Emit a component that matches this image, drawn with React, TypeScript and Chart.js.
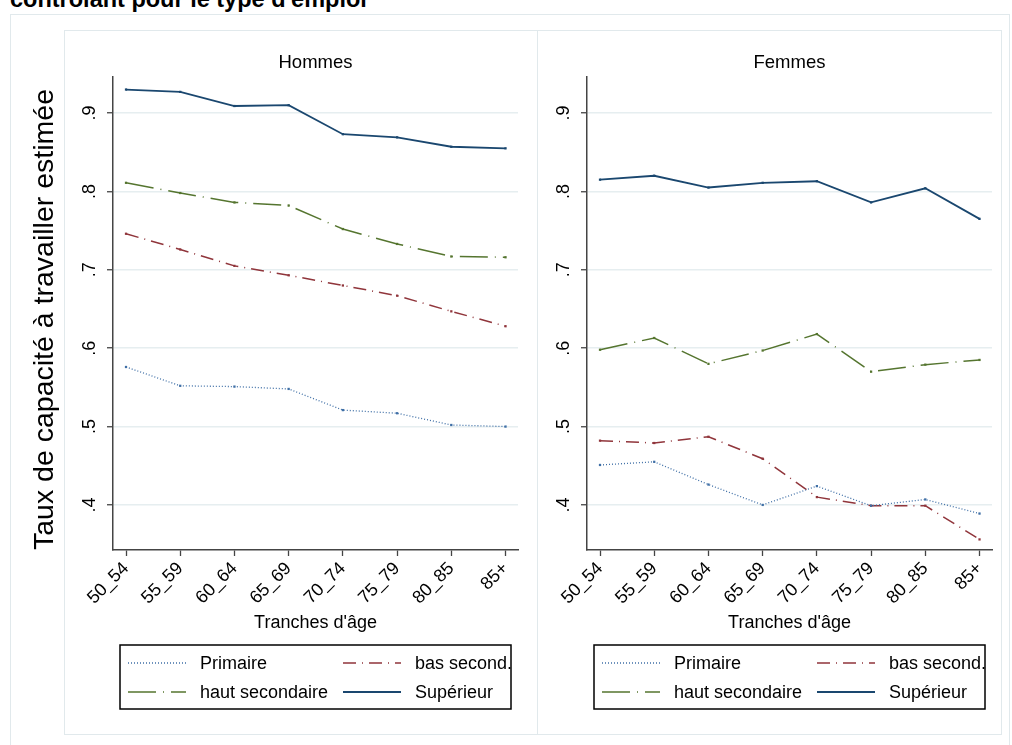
import React, { useEffect, useRef } from "react";
import { Chart, registerables } from "chart.js";

Chart.register(...registerables);

const FONT = '"Liberation Sans", Arial, Helvetica, sans-serif';

const AGE_GROUPS = ["50_54", "55_59", "60_64", "65_69", "70_74", "75_79", "80_85", "85+"];
const Y_TICKS = [0.4, 0.5, 0.6, 0.7, 0.8, 0.9];
const SERIES_NAMES = ["Primaire", "bas second.", "haut secondaire", "Supérieur"];
const SERIES_COLORS = ["#3f6fa6", "#90353b", "#55752f", "#1a476f"];
const SERIES_DASHES = [[1, 2], [13, 6, 1, 6], [28, 7, 1, 7], []];
const SERIES_WIDTHS = [1.3, 1.5, 1.5, 1.8];

const HOMMES_PRIMAIRE = [0.576, 0.552, 0.551, 0.548, 0.521, 0.517, 0.502, 0.5];
const HOMMES_BAS = [0.746, 0.726, 0.705, 0.693, 0.68, 0.667, 0.647, 0.628];
const HOMMES_HAUT = [0.811, 0.798, 0.786, 0.782, 0.752, 0.733, 0.717, 0.716];
const HOMMES_SUP = [0.93, 0.927, 0.909, 0.91, 0.873, 0.869, 0.857, 0.855];

const FEMMES_PRIMAIRE = [0.451, 0.455, 0.426, 0.4, 0.424, 0.399, 0.407, 0.389];
const FEMMES_BAS = [0.482, 0.479, 0.487, 0.459, 0.41, 0.399, 0.399, 0.356];
const FEMMES_HAUT = [0.598, 0.613, 0.58, 0.597, 0.618, 0.57, 0.579, 0.585];
const FEMMES_SUP = [0.815, 0.82, 0.805, 0.811, 0.813, 0.786, 0.804, 0.765];

const Y_MIN = 0.3425;
const Y_MAX = 0.946;
const X_MIN = -0.24;
const X_MAX = 7.23;

const legendPlugin = {
  id: "panelLegend",
  afterDraw(chart: any, _args: any, opts: any) {
    const { ctx, chartArea } = chart;
    const x0 = chartArea.left + 7;
    const x1 = chartArea.right - 7;
    const y0 = opts.top;
    const y1 = opts.top + 64;
    ctx.save();
    ctx.setLineDash([]);
    ctx.strokeStyle = "#000";
    ctx.lineWidth = 1.5;
    ctx.strokeRect(x0, y0, x1 - x0, y1 - y0);
    SERIES_NAMES.forEach((name, i) => {
      const col = i % 2;
      const row = Math.floor(i / 2);
      const sx = x0 + (col ? 223 : 8);
      const sy = y0 + (row ? 47 : 18);
      ctx.beginPath();
      ctx.setLineDash(SERIES_DASHES[i]);
      ctx.strokeStyle = SERIES_COLORS[i];
      ctx.lineWidth = SERIES_WIDTHS[i];
      ctx.moveTo(sx, sy);
      ctx.lineTo(sx + 58, sy);
      ctx.stroke();
      ctx.setLineDash([]);
      ctx.fillStyle = "#000";
      ctx.font = `18px ${FONT}`;
      ctx.textBaseline = "middle";
      ctx.textAlign = "left";
      ctx.fillText(name, sx + 72, sy + 1);
    });
    ctx.restore();
  },
};

type PanelProps = {
  left: number;
  width: number;
  yWidth: number;
  padRight: number;
  title: string;
  values: number[][];
  yTitle?: string;
};

function Panel({ left, width, yWidth, padRight, title, values, yTitle }: PanelProps) {
  const ref = useRef<HTMLCanvasElement | null>(null);
  useEffect(() => {
    if (!ref.current) return;
    const chart = new Chart(ref.current, {
      type: "line",
      data: {
        datasets: values.map((vals, i) => ({
          label: SERIES_NAMES[i],
          data: vals.map((v, j) => ({ x: j, y: v })),
          borderColor: SERIES_COLORS[i],
          backgroundColor: SERIES_COLORS[i],
          borderWidth: SERIES_WIDTHS[i],
          borderDash: SERIES_DASHES[i],
          pointStyle: "rect",
          pointRadius: 1.6,
          pointBorderWidth: 0,
          pointBackgroundColor: SERIES_COLORS[i],
          tension: 0,
          fill: false,
        })),
      },
      options: {
        animation: false,
        responsive: false,
        layout: { padding: { left: 0, right: padRight, top: 0, bottom: 98 } },
        plugins: {
          legend: { display: false },
          tooltip: { enabled: false },
          title: { display: false },
          panelLegend: { top: 615 },
        } as any,
        scales: {
          x: {
            type: "linear",
            position: "bottom",
            min: X_MIN,
            max: X_MAX,
            afterBuildTicks: (s: any) => {
              s.ticks = AGE_GROUPS.map((_, i) => ({ value: i }));
            },
            afterFit: (s: any) => {
              s.height = 85;
            },
            grid: {
              drawOnChartArea: false,
              drawTicks: true,
              tickLength: 6,
              tickColor: "#444",
              tickWidth: 1.3,
            },
            border: { display: true, color: "#444", width: 1.5 },
            ticks: {
              autoSkip: false,
              minRotation: 45,
              maxRotation: 45,
              padding: 2,
              color: "#000",
              font: { family: FONT, size: 18 },
              callback: (v: any) => AGE_GROUPS[v as number] ?? "",
            },
            title: {
              display: true,
              text: "Tranches d'âge",
              color: "#000",
              font: { family: FONT, size: 18 },
              padding: { top: 0, bottom: 1 },
            },
          },
          x2: {
            type: "linear",
            position: "top",
            min: 0,
            max: 1,
            afterFit: (s: any) => {
              s.height = 47;
            },
            grid: { display: false, drawTicks: false },
            border: { display: false },
            ticks: { display: false },
            title: {
              display: true,
              text: title,
              color: "#000",
              font: { family: FONT, size: 18.5 },
              padding: { top: 22, bottom: 0 },
            },
          },
          y: {
            type: "linear",
            position: "left",
            min: Y_MIN,
            max: Y_MAX,
            afterBuildTicks: (s: any) => {
              s.ticks = Y_TICKS.map((v) => ({ value: v }));
            },
            afterFit: (s: any) => {
              s.width = yWidth;
            },
            grid: {
              color: "#e6eef0",
              lineWidth: 1.5,
              drawTicks: true,
              tickLength: 6,
              tickColor: "#444",
              tickWidth: 1.3,
            },
            border: { display: true, color: "#444", width: 1.5 },
            ticks: {
              autoSkip: false,
              minRotation: 90,
              maxRotation: 90,
              crossAlign: "center",
              padding: 9,
              color: "#000",
              font: { family: FONT, size: 18 },
              callback: (v: any) => (v as number).toFixed(1).replace(/^0/, ""),
            },
            title: {
              display: !!yTitle,
              text: yTitle || "",
              align: "start",
              color: "#000",
              font: { family: FONT, size: 28.5 },
              padding: { top: 18, bottom: 0 },
            },
          },
        },
      } as any,
      plugins: [legendPlugin],
    });
    return () => chart.destroy();
  }, []);
  return (
    <canvas
      ref={ref}
      width={width}
      height={703}
      style={{ position: "absolute", left, top: 30, width, height: 703 }}
    />
  );
}

export default function App() {
  const frame = "1px solid #e1e9ec";
  return (
    <div
      style={{
        position: "fixed",
        left: 0,
        top: 0,
        width: 1012,
        height: 745,
        overflow: "hidden",
        background: "#fff",
      }}
    >
      <div
        style={{
          position: "absolute",
          left: 10,
          top: -12,
          fontFamily: FONT,
          fontWeight: "bold",
          fontSize: 23.5,
          lineHeight: "23px",
          whiteSpace: "nowrap",
          color: "#000",
        }}
      >
        contrôlant pour le type d'emploi
      </div>
      <div style={{ position: "absolute", left: 10, top: 14, width: 1000, height: 760, border: frame, boxSizing: "border-box" }} />
      <div style={{ position: "absolute", left: 64, top: 30, width: 474, height: 705, border: frame, boxSizing: "border-box" }} />
      <div style={{ position: "absolute", left: 537, top: 30, width: 465, height: 705, border: frame, boxSizing: "border-box" }} />
      <Panel
        left={10}
        width={527}
        yWidth={103}
        padRight={19}
        title="Hommes"
        values={[HOMMES_PRIMAIRE, HOMMES_BAS, HOMMES_HAUT, HOMMES_SUP]}
        yTitle="Taux de capacité à travailler estimée"
      />
      <Panel
        left={538}
        width={463}
        yWidth={49}
        padRight={9}
        title="Femmes"
        values={[FEMMES_PRIMAIRE, FEMMES_BAS, FEMMES_HAUT, FEMMES_SUP]}
      />
    </div>
  );
}
